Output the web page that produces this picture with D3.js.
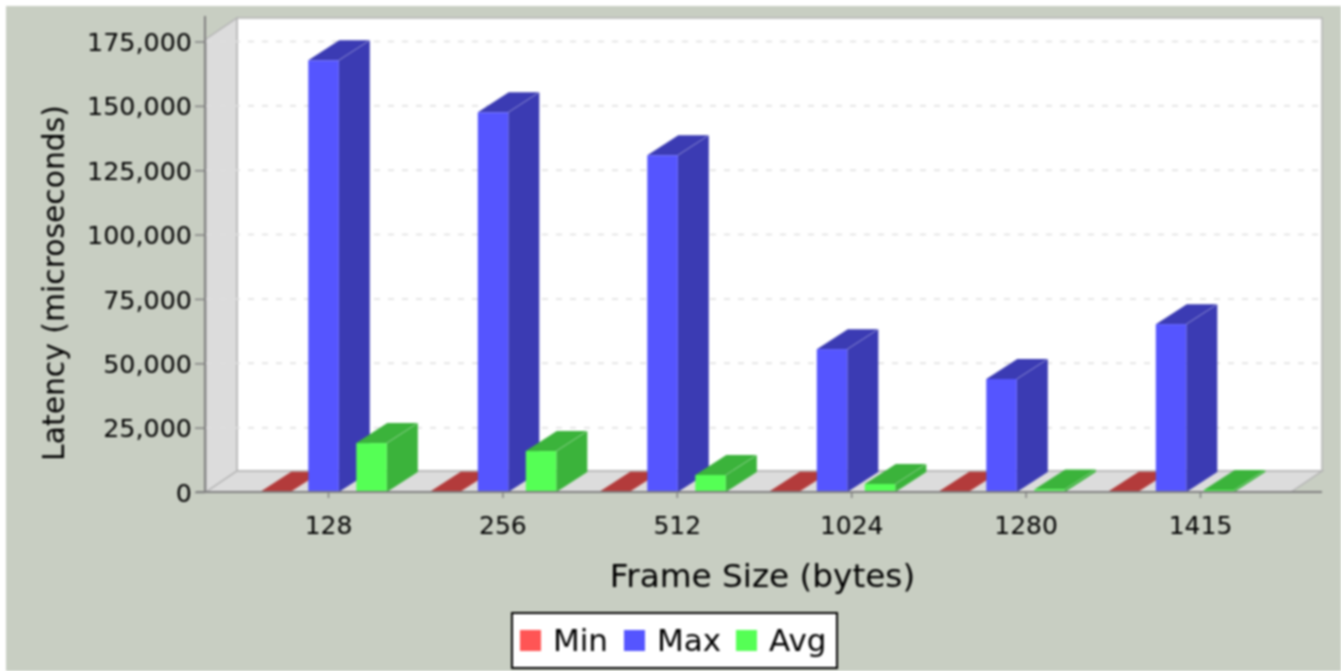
<!DOCTYPE html>
<html>
<head>
<meta charset="utf-8">
<script src="https://cdn.jsdelivr.net/npm/d3@7"></script>
<style>
  html, body { margin: 0; padding: 0; background: #fff; overflow: hidden; }
  svg { display: block; filter: blur(0.8px); }
  text { font-family: "DejaVu Sans", sans-serif; fill: #000; }
</style>
</head>
<body>
<div id="chart"></div>
<script>
const frameSizes = ["128", "256", "512", "1024", "1280", "1415"];
const seriesNames = ["Min", "Max", "Avg"];
const minValues = [80, 80, 80, 80, 80, 80];
const maxValues = [167700, 147500, 130800, 55500, 43900, 65200];
const avgValues = [19000, 15900, 6600, 3100, 1000, 800];
const yTicks = [0, 25000, 50000, 75000, 100000, 125000, 150000, 175000];

const colors = { Min: "#ff5555", Max: "#5555ff", Avg: "#55ff55" };
const sideColors = { Min: "#b33b3b", Max: "#3b3bb3", Avg: "#3bb33b" };

const width = 1341, height = 671;
const dx = 31, dy = 21; // 3d depth offset
const plot = { left: 206, right: 1291, top: 39, bottom: 492 };

const svg = d3.select("#chart").append("svg")
    .attr("width", width)
    .attr("height", height);

// Chart background
svg.append("rect")
    .attr("x", 6).attr("y", 6)
    .attr("width", width - 6).attr("height", height - 6)
    .attr("fill", "#c8cec2");

const y = d3.scaleLinear()
    .domain([0, 175000])
    .range([plot.bottom, 41.5]);

// the bars and the tick labels do not share a step in the picture
const xBars = d3.scaleBand()
    .domain(frameSizes)
    .range([260.3, 260.3 + 169.5 * 6]);
const xTicks = d3.scalePoint()
    .domain(frameSizes)
    .range([328, 1200]);

const wallTop = plot.top - dy;

// Back wall
svg.append("rect")
    .attr("x", plot.left + dx).attr("y", wallTop)
    .attr("width", plot.right - plot.left).attr("height", plot.bottom - plot.top)
    .attr("fill", "#fff")
    .attr("stroke", "#b4b4b4")
    .attr("stroke-width", 1.5);

// Left wall and floor
const wallPath = (pts) => d3.line()(pts) + "Z";
svg.append("path")
    .attr("d", wallPath([[plot.left, plot.top], [plot.left + dx, wallTop], [plot.left + dx, plot.bottom - dy], [plot.left, plot.bottom]]))
    .attr("fill", "#dcdcdc")
    .attr("stroke", "#b4b4b4")
    .attr("stroke-width", 1.5);
svg.append("path")
    .attr("d", wallPath([[plot.left, plot.bottom], [plot.left + dx, plot.bottom - dy], [plot.right + dx, plot.bottom - dy], [plot.right, plot.bottom]]))
    .attr("fill", "#dcdcdc")
    .attr("stroke", "#b4b4b4")
    .attr("stroke-width", 1.5);

// Gridlines
svg.append("g").selectAll("line")
    .data(yTicks.slice(1))
    .join("line")
    .attr("x1", plot.left).attr("x2", plot.right + dx)
    .attr("y1", d => y(d)).attr("y2", d => y(d))
    .attr("stroke", "#dedede")
    .attr("stroke-width", 1.5)
    .attr("stroke-dasharray", "6 8");

// Bars
const barW = 30.5;
const barDx = 31;
const barStep = 48;
const seriesValues = { Min: minValues, Max: maxValues, Avg: avgValues };

function drawBar(g, x0, value, name) {
    const top = y(value);
    const base = y(0);
    // right side
    g.append("path")
        .attr("d", wallPath([[x0 + barW, top], [x0 + barW + barDx, top - dy + 1], [x0 + barW + barDx, base - dy + 1], [x0 + barW, base]]))
        .attr("fill", sideColors[name]);
    // top
    g.append("path")
        .attr("d", wallPath([[x0, top], [x0 + barDx, top - dy + 1], [x0 + barW + barDx, top - dy + 1], [x0 + barW, top]]))
        .attr("fill", sideColors[name]);
    // front
    g.append("rect")
        .attr("x", x0).attr("y", top)
        .attr("width", barW).attr("height", base - top)
        .attr("fill", colors[name]);
    // faint edge where the faces meet
    g.append("path")
        .attr("d", `M${x0 + barW},${top}L${x0 + barW + barDx},${top - dy + 1}`)
        .attr("stroke", "rgba(255,255,255,0.25)")
        .attr("fill", "none");
}

const barsG = svg.append("g");
frameSizes.forEach((size, i) => {
    seriesNames.forEach((name, s) => {
        drawBar(barsG, xBars(size) + s * barStep, seriesValues[name][i], name);
    });
});

// Y axis
const yAxis = d3.axisLeft(y)
    .tickValues(yTicks)
    .tickFormat(d3.format(","))
    .tickSize(10)
    .tickPadding(3);
const yG = svg.append("g")
    .attr("transform", `translate(${plot.left - 1},0)`)
    .call(yAxis);
yG.selectAll("text").style("font-size", "25.4px").attr("y", 1);
yG.selectAll("line").attr("stroke", "#808080").attr("stroke-width", 1.5);
yG.select(".domain").remove();
svg.append("line")
    .attr("x1", plot.left - 1).attr("x2", plot.left - 1)
    .attr("y1", 16).attr("y2", plot.bottom)
    .attr("stroke", "#808080").attr("stroke-width", 2);

// X axis
const xAxis = d3.axisBottom(xTicks)
    .tickSize(6)
    .tickPadding(18);
const xG = svg.append("g")
    .attr("transform", `translate(0,${plot.bottom})`)
    .call(xAxis);
xG.selectAll("text").style("font-size", "25px");
xG.selectAll("line").attr("stroke", "#808080").attr("stroke-width", 1.5);
xG.select(".domain").remove();
svg.append("line")
    .attr("x1", plot.left - 10).attr("x2", plot.right + 31)
    .attr("y1", plot.bottom).attr("y2", plot.bottom)
    .attr("stroke", "#808080").attr("stroke-width", 2);

// Axis titles
svg.append("text")
    .attr("x", 762.5).attr("y", 587)
    .attr("text-anchor", "middle")
    .style("font-size", "32.7px")
    .text("Frame Size (bytes)");
svg.append("text")
    .attr("transform", "translate(64,283) rotate(-90)")
    .attr("text-anchor", "middle")
    .style("font-size", "29.8px")
    .text("Latency (microseconds)");

// Legend
const legend = svg.append("g");
legend.append("rect")
    .attr("x", 512).attr("y", 613)
    .attr("width", 325).attr("height", 55)
    .attr("fill", "#fff")
    .attr("stroke", "#000")
    .attr("stroke-width", 2);
const legendX = { Min: 520, Max: 624, Avg: 736 };
seriesNames.forEach(name => {
    legend.append("rect")
        .attr("x", legendX[name]).attr("y", 630)
        .attr("width", 21).attr("height", 21)
        .attr("fill", colors[name]);
    legend.append("text")
        .attr("x", legendX[name] + 33).attr("y", 651)
        .style("font-size", "31px")
        .text(name);
});
</script>
</body>
</html>
